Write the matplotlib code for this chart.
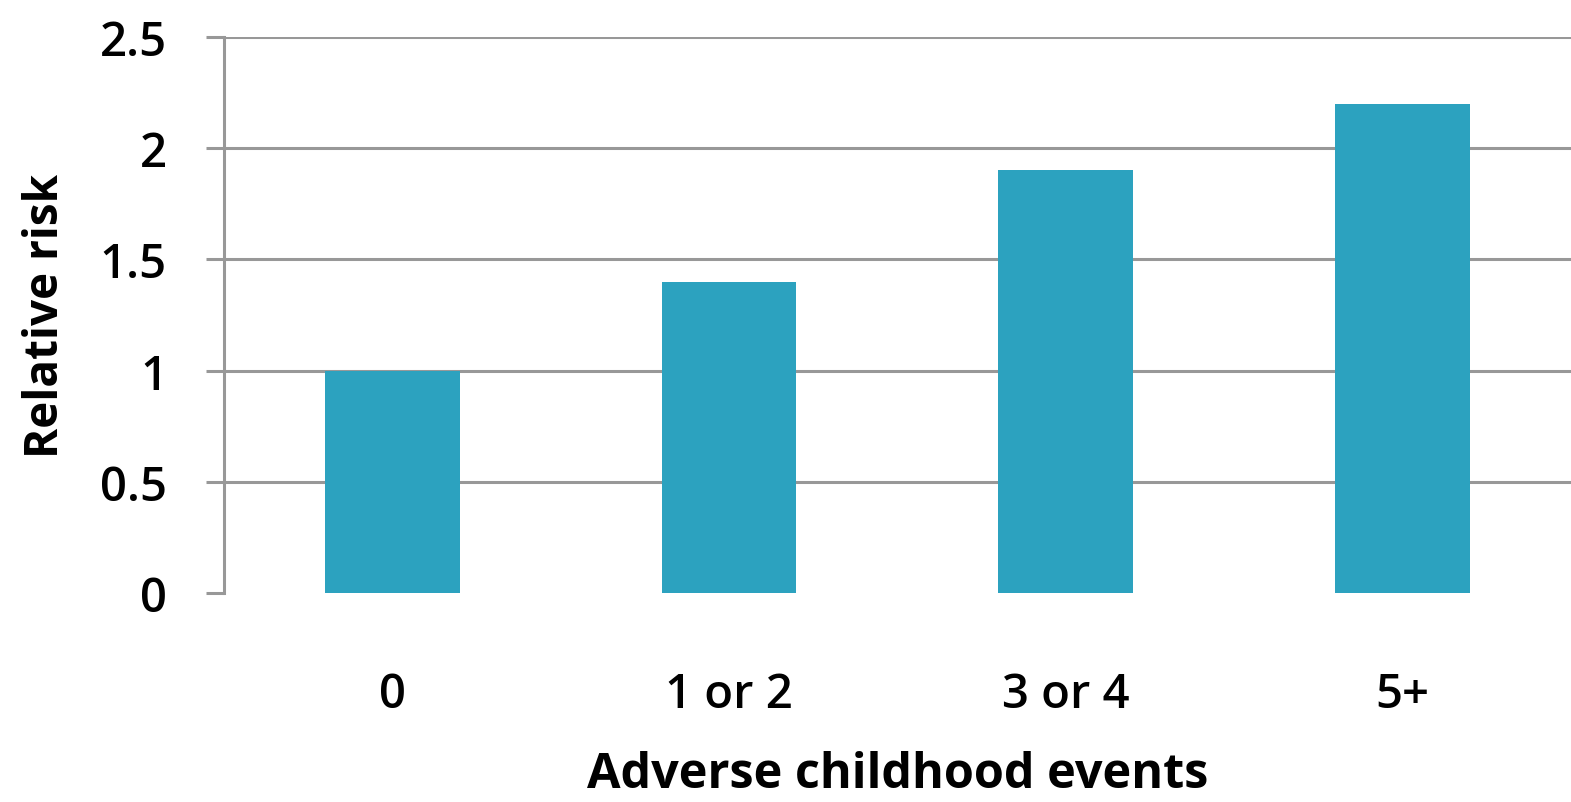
import matplotlib
matplotlib.use('Agg')
import matplotlib.pyplot as plt

# ── Data ──────────────────────────────────────────────────────────────────────
categories = ['0', '1 or 2', '3 or 4', '5+']
relative_risk = [1.0, 1.4, 1.9, 2.2]
yticks = [0, 0.5, 1, 1.5, 2, 2.5]
ytick_labels = ['0', '0.5', '1', '1.5', '2', '2.5']

bar_color = '#2ca2bf'
grid_color = '#989898'

plt.rcParams['font.family'] = ['Open Sans', 'DejaVu Sans']

fig = plt.figure(figsize=(15.71, 8.03), dpi=100)
ax = fig.add_axes([0.1425, 0.2603, 0.8575, 0.6924])

x = range(len(categories))
ax.bar(x, relative_risk, width=0.4, color=bar_color, zorder=3)

ax.set_xlim(-0.5, 3.5)
ax.set_ylim(0, 2.5)
ax.set_yticks(yticks)
ax.set_yticklabels(ytick_labels, fontsize=34, fontweight='semibold')
ax.set_xticks(list(x))
ax.set_xticklabels(categories, fontsize=34, fontweight='semibold')

ax.tick_params(axis='y', length=13, width=2.2, color=grid_color, pad=28)
ax.tick_params(axis='x', length=0, pad=56)

# horizontal gridlines, none at zero
ax.yaxis.grid(True, color=grid_color, linewidth=2.2, zorder=0)
ax.yaxis.get_gridlines()[0].set_visible(False)
ax.set_axisbelow(True)

for side in ['top', 'right', 'bottom']:
    ax.spines[side].set_visible(False)
ax.spines['left'].set_color(grid_color)
ax.spines['left'].set_linewidth(2.2)

ax.set_xlabel('Adverse childhood events', fontsize=35, fontweight='bold', labelpad=23)
ax.set_ylabel('Relative risk', fontsize=33, fontweight='bold', labelpad=22)

fig.savefig('out.png', dpi=100)
